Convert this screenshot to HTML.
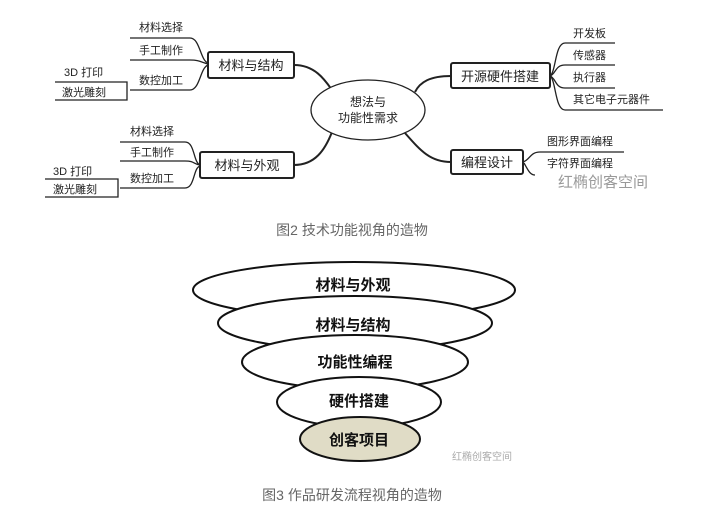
<!DOCTYPE html>
<html><head><meta charset="utf-8"><style>
html,body{margin:0;padding:0;background:#fff;}
svg{display:block;}
text{font-family:"Liberation Sans","Noto Sans CJK SC",sans-serif;}
</style></head><body>
<svg width="703" height="530" viewBox="0 0 703 530" xmlns="http://www.w3.org/2000/svg">
<rect width="703" height="530" fill="#fff"/>
<g stroke="#222" fill="none" stroke-width="1.3">
<!-- central connectors -->
<path d="M294 65 C315 65 325 80 332 90" stroke-width="2"/>
<path d="M294 165 C315 165 325 150 332 132" stroke-width="2"/>
<path d="M451 76 C430 76 420 82 415 92" stroke-width="2"/>
<path d="M451 162 C430 162 420 150 405 133" stroke-width="2"/>
<!-- left group 1 -->
<path d="M130 38 H190 C200 38 200 60 208 63"/>
<path d="M130 60 H190 C200 60 200 62 208 64"/>
<path d="M130 90 H190 C200 90 200 68 208 65"/>
<path d="M55 82 H127 V100 H55"/>
<!-- left group 2 -->
<path d="M120 142 H185 C195 142 193 162 200 165"/>
<path d="M120 161 H185 C195 161 193 164 200 165"/>
<path d="M120 188 H185 C195 188 193 168 200 166"/>
<path d="M45 179 H118 V197 H45"/>
<!-- right group 1 -->
<path d="M615 43 H565 C555 43 556 72 550 76"/>
<path d="M615 65 H565 C555 65 556 74 550 76"/>
<path d="M615 88 H565 C555 88 556 78 550 76"/>
<path d="M663 110 H565 C555 110 556 80 550 76"/>
<!-- right group 2 -->
<path d="M624 152 H540 C530 152 530 160 523 162"/>
<path d="M524 163 C528 170 530 175 535 175"/>
</g>
<ellipse cx="368" cy="110" rx="57" ry="30" fill="#fff" stroke="#222" stroke-width="1.3"/>
<g fill="#fff" stroke="#222" stroke-width="2">
<rect x="208" y="52" width="86" height="26" rx="2"/>
<rect x="200" y="152" width="94" height="26" rx="2"/>
<rect x="451" y="63" width="99" height="25" rx="2"/>
<rect x="451" y="150" width="72" height="24" rx="2"/>
</g>
<g font-size="12" fill="#222">
<text x="368" y="106" text-anchor="middle">想法与</text>
<text x="368" y="122" text-anchor="middle">功能性需求</text>
<text x="251" y="70" text-anchor="middle" font-size="13">材料与结构</text>
<text x="247" y="170" text-anchor="middle" font-size="13">材料与外观</text>
<text x="500" y="81" text-anchor="middle" font-size="13">开源硬件搭建</text>
<text x="487" y="167" text-anchor="middle" font-size="13">编程设计</text>
<text x="139" y="31" font-size="11">材料选择</text>
<text x="139" y="54" font-size="11">手工制作</text>
<text x="139" y="84" font-size="11">数控加工</text>
<text x="64" y="76" font-size="11">3D 打印</text>
<text x="62" y="96" font-size="11">激光雕刻</text>
<text x="130" y="135" font-size="11">材料选择</text>
<text x="130" y="156" font-size="11">手工制作</text>
<text x="130" y="182" font-size="11">数控加工</text>
<text x="53" y="175" font-size="11">3D 打印</text>
<text x="53" y="193" font-size="11">激光雕刻</text>
<text x="573" y="37" font-size="11">开发板</text>
<text x="573" y="59" font-size="11">传感器</text>
<text x="573" y="81" font-size="11">执行器</text>
<text x="573" y="103" font-size="11">其它电子元器件</text>
<text x="547" y="145" font-size="11">图形界面编程</text>
<text x="547" y="167" font-size="11">字符界面编程</text>
</g>
<text x="558" y="187" font-size="15" fill="#999">红椭创客空间</text>
<text x="352" y="235" text-anchor="middle" font-size="14" fill="#666">图2  技术功能视角的造物</text>
<!-- funnel -->
<g stroke="#111" stroke-width="2" fill="#fff">
<ellipse cx="354" cy="290" rx="161" ry="28"/>
<ellipse cx="355" cy="323" rx="137" ry="27"/>
<ellipse cx="355" cy="362" rx="113" ry="27"/>
<ellipse cx="359" cy="402" rx="82" ry="25"/>
<ellipse cx="360" cy="439" rx="60" ry="22" fill="#e0dcc6"/>
</g>
<g font-size="15" font-weight="bold" fill="#111" text-anchor="middle">
<text x="353" y="290">材料与外观</text>
<text x="353" y="330">材料与结构</text>
<text x="355" y="367">功能性编程</text>
<text x="359" y="406">硬件搭建</text>
<text x="359" y="445">创客项目</text>
</g>
<text x="452" y="460" font-size="10" fill="#aaa">红椭创客空间</text>
<text x="352" y="500" text-anchor="middle" font-size="14" fill="#666">图3  作品研发流程视角的造物</text>
</svg>
</body></html>
